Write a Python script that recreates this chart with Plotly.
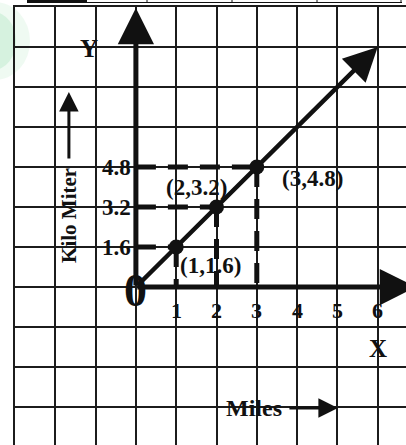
import plotly.graph_objects as go

# Conversion of miles to kilometres
miles = [1, 2, 3]
kilometers = [1.6, 3.2, 4.8]
point_labels = ["(1,1.6)", "(2,3.2)", "(3,4.8)"]
x_ticks = [1, 2, 3, 4, 5, 6]
y_ticks = [1.6, 3.2, 4.8]
rate = kilometers[0] / miles[0]

# Page / grid geometry
W, H = 406, 445
ML, MT = 15, 7
PX_PER_X = 40.3          # pixels per mile (one grid cell)
PX_PER_Y = 40.0          # pixels per 1.6 km (one grid cell)
Y_STEP = 1.6
x_lo = -3
y_hi = 7 * Y_STEP
x_range = [x_lo, x_lo + (W - ML) / PX_PER_X]
y_range = [y_hi - (H - MT) / PX_PER_Y * Y_STEP, y_hi]


def dx(px):
    """pixel offset -> x data units"""
    return px / PX_PER_X


def dy(px):
    """pixel offset -> y data units"""
    return px / PX_PER_Y * Y_STEP


def paper_x(px):
    return (px - ML) / (W - ML)


def paper_y(py):
    return 1 - (py - MT) / (H - MT)


FONT = "Liberation Serif"
INK = "#111111"

fig = go.Figure()

# dashed guides from each point to both axes
gx, gy = [], []
for m, k in zip(miles, kilometers):
    gx += [0, m, None, m, m, None]
    gy += [k, k, None, k, 0, None]
fig.add_trace(go.Scatter(
    x=gx, y=gy, mode="lines",
    line=dict(color=INK, width=5, dash="20px,12px"),
    hoverinfo="skip", showlegend=False))

# the points on the conversion line
fig.add_trace(go.Scatter(
    x=miles, y=kilometers, mode="markers",
    marker=dict(color=INK, size=15),
    hoverinfo="skip", showlegend=False))

annotations = []


def arrow(x, y, ax, ay, width, size):
    annotations.append(dict(
        x=x, y=y, ax=ax, ay=ay, xref="x", yref="y", axref="x", ayref="y",
        text="", showarrow=True, arrowhead=2, arrowsize=size,
        arrowwidth=width, arrowcolor=INK, standoff=0, startstandoff=0))


# axes with arrow heads
arrow(0, y_hi - dy(1), 0, 0, 5, 1.45)
arrow(x_range[1] + dx(10), 0, 0, 0, 5, 1.45)
# conversion line y = rate * x
arrow(6, 6 * rate, 0, 0, 4.5, 1.5)


def label(text, x, y, size, xanchor="center", yanchor="middle",
          xshift=0, yshift=0, angle=0):
    annotations.append(dict(
        x=x, y=y, xref="x", yref="y", text=text, showarrow=False,
        xanchor=xanchor, yanchor=yanchor, xshift=xshift, yshift=yshift,
        textangle=angle,
        font=dict(family=FONT, size=size, color=INK, weight="bold")))


# origin
label("0", 0, 0, 46, yshift=-3)
# tick labels
for t in x_ticks:
    label(str(t), t, 0, 22, yshift=-23)
for t in y_ticks:
    label(f"{t:.1f}", 0, t, 23, xanchor="right", xshift=-3)

# point labels
offsets = [("left", 2, -18), ("center", -20, 20), ("left", 23, -11)]
for (m, k, txt), (anc, xs, ys) in zip(zip(miles, kilometers, point_labels), offsets):
    label(txt, m, k, 23, xanchor=anc, xshift=xs, yshift=ys)

# axis names
label("Y", dx(88 - 135), dy(287 - 48), 25)
label("X", 6, 0, 25, yshift=-61)
label("Kilo Miter", dx(68 - 135), dy(287 - 215), 21, angle=-90)
arrow(dx(68 - 135), dy(287 - 92), dx(68 - 135), dy(287 - 160), 3, 1.3)
label("Miles", dx(253 - 135), dy(287 - 408), 24)
arrow(dx(337 - 135), dy(287 - 408), dx(287 - 135), dy(287 - 408), 3, 1.3)

shapes = [
    # soft green glow at the top-left corner of the page
    dict(type="circle", xref="paper", yref="paper", layer="below",
         x0=paper_x(-40), x1=paper_x(30), y0=paper_y(80), y1=paper_y(2),
         fillcolor="rgba(190,235,205,0.25)", line=dict(width=0)),
    dict(type="circle", xref="paper", yref="paper", layer="below",
         x0=paper_x(-30), x1=paper_x(16), y0=paper_y(70), y1=paper_y(12),
         fillcolor="rgba(185,232,200,0.45)", line=dict(width=0)),
    # edge of the table row above the grid
    dict(type="rect", xref="paper", yref="paper", layer="above",
         x0=paper_x(27), x1=paper_x(87), y0=paper_y(3), y1=paper_y(-1),
         fillcolor=INK, line=dict(width=0)),
    dict(type="line", xref="paper", yref="paper", layer="above",
         x0=paper_x(87), x1=paper_x(402), y0=paper_y(2.5), y1=paper_y(2.5),
         line=dict(color=INK, width=1)),
]
for cx in [147, 232, 317, 401]:
    shapes.append(dict(type="line", xref="paper", yref="paper", layer="above",
                       x0=paper_x(cx), x1=paper_x(cx), y0=paper_y(0), y1=paper_y(3),
                       line=dict(color=INK, width=1)))

grid = dict(showgrid=True, gridcolor="#1c1c1c", gridwidth=1.6,
            zeroline=False, showticklabels=False, ticks="",
            showline=True, linecolor="#1c1c1c", linewidth=2, mirror=False,
            fixedrange=True)

fig.update_layout(
    width=W, height=H,
    margin=dict(l=ML, r=0, t=MT, b=0, pad=0),
    paper_bgcolor="white", plot_bgcolor="rgba(0,0,0,0)",
    xaxis=dict(range=x_range, tick0=0, dtick=1, side="top", **grid),
    yaxis=dict(range=y_range, tick0=0, dtick=Y_STEP, side="left", **grid),
    annotations=annotations, shapes=shapes, showlegend=False,
)

fig.write_html("out.html")
